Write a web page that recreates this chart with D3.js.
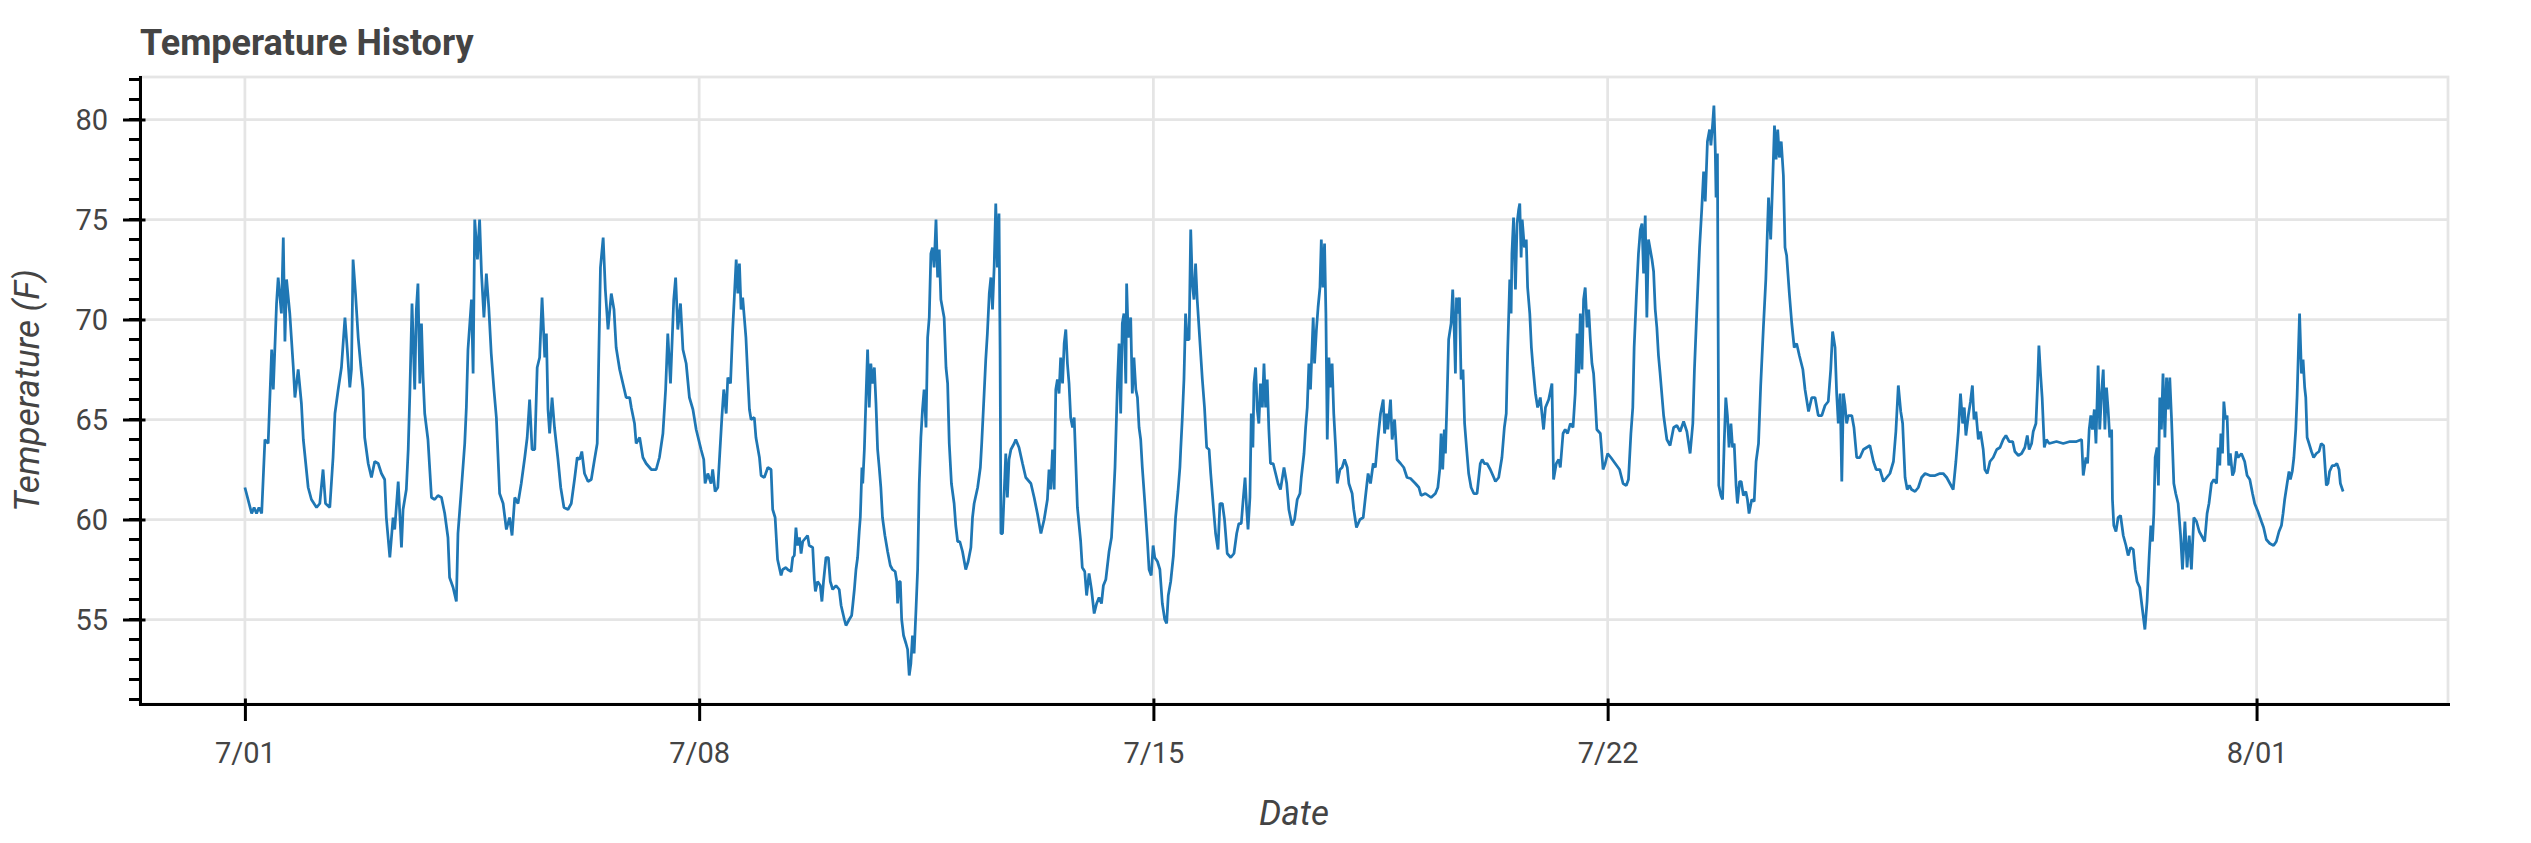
<!DOCTYPE html>
<html>
<head>
<meta charset="utf-8">
<script src="https://cdn.jsdelivr.net/npm/d3@7"></script>
<style>
  body { margin: 0; background: #ffffff; }
  svg { display: block; }
  text { font-family: Roboto, "Noto Sans", sans-serif; fill: #444444; }
</style>
</head>
<body>
<svg id="chart" width="2531" height="843"></svg>
<script>
// ---------------- DATA ----------------
const startDate = Date.UTC(2021, 6, 1);   // 7/01 00:00, readings are [hours since start, temperature F]
const chartTitle = "Temperature History";
const xLabel = "Date";
const yLabel = "Temperature (F)";
const xTickDates = [[6, 1], [6, 8], [6, 15], [6, 22], [7, 1]];   // [month index, day]
const yTickValues = [55, 60, 65, 70, 75, 80];

const readingsJul01to07 = [[0,61.6],[2.5,60.3],[3.4,60.6],[4.3,60.3],[5.2,60.6],[6.2,60.3],[7.4,64.0],[8.6,63.8],[9.9,68.5],[10.5,66.5],[11.7,70.8],[12.3,72.1],[13.5,70.3],[14.2,74.1],[14.8,68.9],[15.4,72.0],[16.6,70.3],[17.9,67.6],[18.5,66.1],[19.7,67.5],[20.9,65.8],[21.6,64.0],[23.4,61.6],[24.6,61.0],[26.5,60.6],[27.7,60.8],[28.9,62.5],[29.8,60.8],[31.4,60.6],[32.6,63.1],[33.3,65.3],[34.5,66.5],[35.7,67.6],[37.0,70.1],[37.8,68.6],[38.8,66.6],[39.4,67.5],[40.0,73.0],[40.9,71.3],[41.9,69.1],[42.9,67.6],[43.7,66.5],[44.3,64.1],[45.6,62.8],[46.8,62.1],[48.0,62.9],[49.3,62.8],[50.5,62.3],[51.7,62.0],[52.3,60.1],[53.6,58.1],[54.8,60.1],[55.4,59.5],[56.7,61.9],[57.9,58.6],[58.5,60.5],[59.7,61.5],[60.4,63.5],[61.0,66.3],[61.8,70.8],[62.8,66.5],[63.4,70.5],[64.0,71.8],[64.7,66.8],[65.3,69.8],[65.9,67.1],[66.5,65.3],[67.7,64.0],[69.0,61.1],[70.2,61.0],[71.4,61.2],[72.7,61.1],[73.9,60.3],[75.1,59.1],[75.7,57.1],[77.0,56.6],[78.2,55.9],[78.8,59.3],[80.1,61.6],[81.3,63.8],[81.9,65.6],[82.5,68.5],[83.8,71.0],[84.4,67.3],[85.0,75.0],[86.0,73.0],[86.8,75.0],[87.5,72.3],[88.4,70.1],[89.3,72.3],[90.2,70.6],[91.1,68.3],[92.1,66.5],[93.0,65.1],[94.2,61.3],[95.5,60.8],[96.7,59.5],[97.9,60.1],[98.8,59.2],[99.8,61.1],[101.0,60.8],[102.2,61.8],[103.5,63.1],[104.4,64.1],[105.3,66.0],[106.2,63.5],[107.2,63.5],[108.1,67.6],[109.0,68.1],[109.9,71.1],[110.9,68.1],[111.5,69.3],[112.1,65.5],[112.7,64.3],[113.6,66.1],[114.5,64.6],[115.8,63.0],[116.8,61.6],[118.0,60.6],[119.5,60.5],[120.7,60.8],[121.9,62.0],[122.9,63.1],[123.8,63.0],[124.6,63.4],[125.6,62.3],[126.9,61.9],[128.1,62.0],[129.3,63.0],[130.3,63.8],[130.8,67.6],[131.5,72.6],[132.5,74.1],[133.3,71.5],[134.3,69.5],[135.5,71.3],[136.5,70.5],[137.3,68.6],[138.6,67.5],[139.8,66.8],[141.0,66.1],[142.3,66.1],[142.9,65.6],[144.1,64.8],[144.7,63.8],[146.0,64.1],[147.2,63.1],[148.4,62.8],[150.3,62.5],[152.1,62.5],[153.3,63.1],[154.6,64.3],[155.6,66.5],[156.4,69.3],[157.4,66.8],[158.6,71.0],[159.3,72.1],[160.1,69.5],[161.1,70.8],[162.0,68.5],[163.2,67.8],[164.4,66.1],[165.7,65.5],[166.9,64.5]];

const readingsJul08to15 = [[168.7,63.5],[169.7,63.0],[170.2,61.8],[171.2,62.3],[172.4,61.8],[173.0,62.5],[173.9,61.4],[174.9,61.6],[175.5,63.0],[176.4,65.1],[177.1,66.5],[178.0,65.3],[178.6,67.1],[179.6,66.8],[180.4,69.5],[181.0,71.1],[181.7,73.0],[182.3,71.3],[182.9,72.8],[183.5,70.5],[184.1,71.1],[184.7,70.1],[185.3,69.1],[186.0,67.1],[186.6,65.5],[187.2,65.0],[188.4,65.1],[189.0,64.1],[190.3,63.1],[190.9,62.2],[192.1,62.1],[193.4,62.6],[194.6,62.5],[195.2,60.5],[196.1,60.1],[197.0,58.0],[198.3,57.2],[198.9,57.5],[200.1,57.6],[200.7,57.5],[202.0,57.4],[202.6,58.1],[203.2,58.2],[203.8,59.6],[204.4,58.7],[205.1,59.1],[205.7,58.3],[206.3,58.9],[207.5,59.1],[208.1,59.2],[208.7,58.7],[210.0,58.6],[210.6,57.0],[211.0,56.4],[211.8,56.9],[212.8,56.7],[213.4,55.9],[214.0,56.9],[214.9,58.1],[215.8,58.1],[216.5,56.9],[217.4,56.5],[218.6,56.7],[219.8,56.5],[220.5,55.7],[221.7,55.0],[222.3,54.7],[223.5,55.0],[224.4,55.2],[224.8,55.7],[225.4,56.5],[226.0,57.5],[226.6,58.1],[227.2,59.4],[227.6,60.1],[227.8,60.9],[228.2,62.6],[228.5,61.8],[229.1,63.5],[229.7,66.1],[230.3,68.5],[230.9,65.6],[231.5,67.8],[232.1,66.8],[232.8,67.6],[233.4,65.8],[234.0,63.5],[234.6,62.6],[235.2,61.6],[235.8,60.1],[236.7,59.2],[237.7,58.4],[238.7,57.7],[239.5,57.5],[240.5,57.4],[241.1,56.9],[241.4,55.8],[242.0,56.9],[242.4,56.9],[242.9,55.0],[243.6,54.2],[244.5,53.8],[245.1,53.5],[245.7,52.2],[246.3,52.8],[246.9,54.2],[247.5,53.3],[248.2,55.5],[248.8,57.5],[249.4,61.8],[250.0,64.1],[250.6,65.5],[251.2,66.5],[251.9,64.6],[252.5,69.1],[253.1,70.1],[253.7,73.3],[254.3,73.6],[254.9,72.6],[255.6,75.0],[256.2,72.1],[256.8,73.5],[257.4,71.0],[258.6,70.1],[259.3,67.6],[259.9,66.8],[260.5,63.8],[261.3,61.8],[262.3,60.8],[262.9,59.7],[263.6,58.9],[264.4,58.9],[265.4,58.4],[266.6,57.5],[267.5,57.9],[268.5,58.6],[269.1,60.1],[269.7,60.8],[271.0,61.6],[272.0,62.6],[272.5,63.8],[273.4,66.3],[274.0,68.0],[274.6,69.3],[275.3,71.3],[275.9,72.1],[276.5,70.5],[277.1,72.6],[277.7,75.8],[278.3,72.6],[278.9,75.3],[279.3,68.5],[279.6,59.3],[280.2,59.3],[280.8,61.3],[281.4,63.3],[282.0,61.1],[282.6,63.0],[283.3,63.5],[284.5,63.8],[285.1,64.0],[286.3,63.6],[287.6,62.8],[288.8,62.1],[290.7,61.8],[291.9,61.1],[293.1,60.3],[294.4,59.3],[295.6,60.0],[296.8,61.0],[297.4,62.5],[298.0,61.5],[298.7,63.5],[299.3,61.5],[299.9,66.5],[300.5,67.0],[301.1,66.3],[301.7,68.1],[302.4,66.8],[303.0,68.8],[303.6,69.5],[304.2,67.8],[304.8,66.8],[305.4,65.1],[306.1,64.6],[306.7,65.1],[307.9,60.6],[309.1,58.9],[309.7,57.6],[310.6,57.4],[311.3,56.2],[312.2,57.3],[313.1,56.5],[314.1,55.3],[315.0,55.8],[315.9,56.1],[316.8,55.8],[317.5,56.7],[318.4,57.0],[319.6,58.4],[320.5,59.1],[321.2,60.9],[321.8,62.6],[322.7,66.8],[323.3,68.8],[323.9,65.3],[324.5,69.8],[325.1,70.3],[325.8,66.8],[326.1,71.8],[326.7,69.1],[327.6,70.1],[328.2,66.3],[328.8,68.1],[329.5,66.5],[330.1,66.1],[330.7,64.6],[331.3,64.0],[331.9,62.6],[332.8,60.9],[333.8,58.9],[334.4,57.5],[335.2,57.2],[335.9,58.7],[336.5,58.1],[337.5,57.9],[338.4,57.5],[339.3,55.8],[340.2,55.0],[340.9,54.8],[341.5,56.2],[342.4,56.9],[343.4,58.2],[344.2,60.1],[345.1,61.4],[345.8,62.6],[346.1,63.5],[346.7,65.1],[347.3,67.0],[347.9,70.3],[348.5,69.0],[349.2,69.0],[349.8,74.5],[350.4,71.8],[351.0,71.0],[351.6,72.8],[352.2,71.0]];

const readingsJul15to22 = [[354.1,67.0],[354.9,65.6],[355.7,63.6],[356.6,63.5],[357.2,62.3],[358.2,60.6],[359.0,59.3],[359.9,58.5],[360.6,60.8],[361.5,60.8],[362.3,60.0],[363.3,58.3],[364.6,58.1],[365.8,58.3],[366.8,59.3],[367.6,59.8],[368.5,59.8],[369.2,61.0],[369.9,62.1],[370.5,60.5],[371.0,59.5],[371.7,61.1],[372.2,65.3],[372.8,63.6],[373.2,66.8],[373.8,67.6],[374.4,65.5],[375.0,64.8],[375.6,66.8],[376.3,65.6],[376.9,67.8],[377.5,65.6],[378.1,67.0],[378.7,64.5],[379.3,62.8],[380.3,62.8],[381.2,62.3],[382.1,61.8],[383.0,61.5],[384.3,62.6],[385.3,61.8],[386.1,60.5],[387.3,59.7],[388.2,60.0],[389.2,61.0],[390.2,61.3],[390.7,62.1],[391.7,63.3],[392.3,64.6],[392.9,65.6],[393.5,67.8],[394.1,66.5],[395.1,70.1],[395.6,67.8],[396.3,69.5],[396.9,70.6],[397.6,71.6],[398.1,74.0],[398.7,71.6],[399.3,73.8],[399.8,70.3],[400.3,64.0],[400.9,68.1],[401.5,66.6],[402.1,67.8],[402.7,65.3],[403.4,63.6],[404.0,61.8],[405.0,62.5],[405.8,62.6],[406.7,63.0],[407.7,62.6],[408.3,61.8],[409.5,61.3],[410.1,60.5],[411.1,59.6],[412.4,60.0],[413.6,60.1],[414.4,61.1],[415.4,62.3],[416.3,61.8],[417.3,62.8],[418.1,62.6],[419.0,64.0],[420.0,65.3],[421.0,66.0],[421.5,64.3],[422.2,65.3],[422.7,64.5],[423.7,66.0],[424.3,64.0],[425.2,65.0],[426.1,63.0],[427.4,62.8],[428.6,62.6],[429.8,62.1],[431.1,62.05],[432.9,61.8],[434.2,61.6],[435.0,61.2],[436.6,61.3],[438.7,61.1],[440.3,61.3],[441.2,61.6],[441.9,62.5],[442.4,64.3],[443.0,62.5],[443.6,64.5],[444.0,63.3],[444.6,66.0],[445.2,69.0],[446.1,69.8],[446.7,71.5],[447.3,69.3],[447.7,67.3],[448.1,71.1],[448.6,70.3],[449.2,71.1],[449.8,67.0],[450.5,67.5],[451.1,64.8],[451.8,63.6],[452.6,62.3],[453.5,61.6],[454.5,61.3],[455.7,61.3],[456.9,62.8],[457.6,63.0],[458.4,62.8],[459.4,62.8],[460.6,62.5],[461.9,62.1],[462.5,61.9],[463.7,62.1],[464.9,63.1],[465.8,64.6],[466.5,65.3],[467.0,68.3],[467.8,72.0],[468.3,70.3],[468.6,73.3],[469.2,75.1],[469.9,71.5],[470.5,74.8],[471.1,75.5],[471.5,75.8],[472.0,73.1],[472.4,75.0],[473.2,73.6],[473.9,74.0],[474.4,71.6],[475.2,70.3],[475.8,68.6],[476.4,67.6],[477.3,66.3],[478.1,65.6],[479.1,66.1],[479.7,65.3],[480.3,64.5],[481.0,65.6],[482.2,66.0],[483.4,66.8],[484.0,62.0],[485.0,62.8],[485.9,63.0],[486.5,62.6],[487.5,64.3],[488.3,64.5],[489.2,64.3],[490.2,64.8],[491.2,64.6],[492.0,66.3],[492.7,69.3],[493.3,67.3],[493.9,70.3],[494.5,67.5],[495.1,71.0],[495.7,71.6],[496.4,69.6],[497.0,70.5],[497.6,69.0],[498.2,67.8],[498.8,67.3],[499.4,66.0],[500.0,64.5],[501.3,64.3],[502.3,62.5],[503.1,62.8],[504.0,63.3],[505.2,63.1],[506.8,62.8],[508.4,62.5],[509.7,61.8],[510.9,61.7],[511.7,62.0],[512.6,64.3],[513.3,65.6],[513.8,68.6],[514.6,71.1],[515.4,73.3],[516.1,74.5],[516.7,74.8],[517.3,72.3],[517.9,75.2],[518.5,70.1],[519.1,74.0]];

const readingsJul22to28 = [[520.4,73.0],[521.0,72.4],[521.6,70.5],[522.2,69.6],[522.8,68.2],[523.4,67.3],[524.7,65.2],[525.9,64.0],[527.1,63.7],[528.4,64.6],[529.6,64.7],[530.8,64.4],[532.1,64.9],[533.3,64.4],[534.5,63.3],[535.5,64.8],[536.1,67.5],[537.0,70.5],[538.0,73.6],[538.8,75.5],[539.5,77.4],[540.1,75.9],[540.9,78.9],[541.7,79.5],[542.2,78.7],[542.9,79.9],[543.3,80.7],[543.8,78.5],[544.1,76.1],[544.6,78.3],[544.9,68.6],[545.1,61.7],[545.9,61.2],[546.5,61.0],[547.1,63.8],[547.7,66.1],[548.3,65.2],[548.9,63.6],[549.6,64.8],[550.2,63.6],[550.8,63.8],[551.5,61.7],[552.0,60.8],[552.8,61.9],[553.4,61.9],[554.2,61.2],[555.1,61.4],[555.7,61.0],[556.3,60.3],[557.3,61.0],[558.2,60.9],[558.9,62.9],[559.8,63.8],[560.6,66.7],[561.6,69.6],[562.5,72.0],[563.5,76.1],[564.3,74.0],[565.1,77.2],[565.7,79.7],[566.3,78.0],[566.9,79.5],[567.5,78.1],[568.2,78.9],[569.0,77.2],[569.6,73.6],[570.2,73.2],[571.2,71.3],[572.1,69.8],[573.0,68.6],[573.9,68.8],[574.9,68.2],[576.2,67.5],[577.0,66.5],[578.3,65.4],[579.5,66.1],[580.7,66.1],[581.9,65.2],[583.2,65.2],[584.4,65.7],[585.6,65.9],[586.5,67.5],[587.2,69.4],[588.1,68.6],[588.7,66.3],[589.3,64.8],[590.0,66.3],[590.6,61.9],[591.2,66.3],[591.8,65.7],[592.4,64.8],[593.0,65.2],[594.3,65.2],[595.1,64.6],[596.1,63.1],[597.3,63.1],[598.6,63.5],[599.8,63.6],[601.0,63.7],[602.3,62.9],[603.3,62.5],[604.7,62.5],[606.0,61.9],[607.2,62.1],[608.4,62.3],[609.7,62.9],[610.6,64.4],[611.5,66.7],[612.4,65.4],[613.1,64.8],[614.0,62.1],[614.8,61.5],[615.6,61.7],[616.4,61.5],[617.7,61.4],[618.9,61.6],[620.1,62.1],[621.4,62.3],[623.2,62.2],[625.1,62.2],[626.9,62.3],[628.1,62.3],[629.4,62.1],[630.6,61.8],[631.8,61.5],[632.8,62.9],[633.7,64.4],[634.5,66.3],[635.3,64.8],[635.9,65.6],[636.5,64.2],[637.4,65.2],[638.2,65.9],[638.9,66.7],[639.5,65.0],[640.2,65.4],[641.1,64.0],[641.9,64.4],[642.9,63.5],[643.5,62.5],[644.4,62.3],[645.4,62.9],[646.6,63.1],[647.9,63.5],[649.1,63.6],[650.3,64.0],[651.3,64.2],[652.5,63.9],[653.8,63.9],[654.6,63.4],[655.9,63.2],[657.1,63.3],[658.3,63.6],[659.2,64.2],[659.9,63.5],[660.8,63.8],[661.4,64.4],[662.4,64.8],[663.0,66.7],[663.5,68.7],[664.1,67.3],[664.7,66.1],[665.5,63.6],[666.3,64.0],[667.3,63.8]];

const readingsJul28toAug02 = [[670.0,63.9],[672.5,63.8],[675.0,63.9],[677.4,63.9],[679.3,64.0],[679.9,62.2],[680.9,63.1],[681.5,62.8],[682.1,64.5],[682.7,65.2],[683.3,64.5],[684.0,65.5],[684.6,63.8],[685.4,67.7],[686.0,64.5],[686.7,66.4],[687.3,67.5],[687.9,64.5],[688.5,66.6],[689.1,65.5],[689.7,64.1],[690.4,64.5],[690.7,61.0],[691.2,59.7],[692.0,59.4],[692.8,60.1],[693.7,60.2],[694.7,59.2],[695.7,58.7],[696.5,58.2],[697.4,58.6],[698.4,58.5],[699.1,57.5],[699.8,56.9],[700.8,56.6],[701.6,55.7],[702.7,54.5],[703.5,55.9],[704.3,58.2],[704.9,59.7],[705.5,58.9],[706.0,60.3],[706.5,63.1],[707.2,63.6],[707.7,61.7],[708.2,66.1],[708.8,64.5],[709.4,67.3],[710.1,64.1],[710.7,67.1],[711.3,65.5],[711.9,67.1],[712.5,65.2],[713.4,61.8],[714.1,61.3],[715.0,60.8],[715.9,59.2],[716.6,57.5],[717.5,59.9],[718.3,57.6],[719.1,59.2],[719.9,57.5],[720.8,60.1],[721.8,59.9],[722.8,59.4],[723.6,59.2],[724.8,58.9],[725.7,60.3],[726.4,60.8],[727.3,61.8],[728.2,62.0],[729.2,61.8],[729.8,63.6],[730.4,62.7],[730.8,64.3],[731.4,63.3],[731.9,65.9],[732.5,65.0],[733.1,65.2],[733.7,62.7],[734.3,63.3],[735.1,62.2],[735.7,62.4],[736.5,63.4],[737.2,63.1],[738.4,63.3],[739.6,62.9],[740.5,62.2],[741.5,62.0],[742.5,61.3],[743.3,60.8],[744.5,60.4],[745.8,59.9],[746.6,59.6],[747.6,59.0],[748.9,58.8],[750.3,58.7],[751.3,58.9],[752.3,59.4],[753.2,59.7],[753.8,60.3],[754.4,61.0],[755.3,61.8],[756.0,62.4],[756.5,62.0],[757.2,62.4],[757.8,63.1],[758.5,64.5],[759.0,66.2],[759.3,67.6],[759.9,70.3],[760.6,67.3],[761.2,68.0],[761.8,66.6],[762.2,66.1],[762.7,64.1],[763.4,63.8],[764.3,63.4],[765.1,63.1],[766.1,63.3],[767.1,63.4],[767.9,63.8],[768.8,63.7],[769.8,61.7],[770.4,61.8],[771.0,62.4],[772.0,62.7],[772.9,62.7],[773.7,62.8],[774.5,62.5],[775.0,61.8],[776.0,61.4]];

// ---------------- CHART ----------------
const W = 2531, H = 843;
const frame = { left: 140, right: 2448, top: 77, bottom: 704 };
const HOUR = 3600 * 1000;

const readings = [].concat(readingsJul01to07, readingsJul08to15, readingsJul15to22,
                           readingsJul22to28, readingsJul28toAug02)
  .map(([h, t]) => ({ date: new Date(startDate + h * HOUR), temp: t }));

// data ranges with 5% padding on each side
const tExt = d3.extent(readings, d => +d.date);
const tPad = (tExt[1] - tExt[0]) * 0.05;
const vExt = d3.extent(readings, d => d.temp);
const vPad = (vExt[1] - vExt[0]) * 0.05;

const x = d3.scaleUtc()
  .domain([new Date(tExt[0] - tPad), new Date(tExt[1] + tPad)])
  .range([frame.left, frame.right]);
const y = d3.scaleLinear()
  .domain([vExt[0] - vPad, vExt[1] + vPad])
  .range([frame.bottom, frame.top]);

const xTicks = xTickDates.map(([m, d]) => new Date(Date.UTC(2021, m, d)));
const yMinor = d3.range(Math.ceil(y.domain()[0]), Math.floor(y.domain()[1]) + 1);

const svg = d3.select("#chart");
svg.append("rect").attr("width", W).attr("height", H).attr("fill", "#ffffff");

// grid
const grid = svg.append("g").attr("stroke", "#e5e5e5").attr("stroke-width", 2.75);
grid.selectAll("line.h").data(yTickValues).join("line").attr("class", "h")
  .attr("x1", frame.left).attr("x2", frame.right)
  .attr("y1", d => y(d)).attr("y2", d => y(d));
grid.selectAll("line.v").data(xTicks).join("line").attr("class", "v")
  .attr("y1", frame.top).attr("y2", frame.bottom)
  .attr("x1", d => x(d)).attr("x2", d => x(d));

// outline
svg.append("rect")
  .attr("x", frame.left).attr("y", frame.top)
  .attr("width", frame.right - frame.left).attr("height", frame.bottom - frame.top)
  .attr("fill", "none").attr("stroke", "#e5e5e5").attr("stroke-width", 2.75);

// line
const line = d3.line().x(d => x(d.date)).y(d => y(d.temp));
svg.append("path").datum(readings)
  .attr("d", line)
  .attr("fill", "none")
  .attr("stroke", "#1f77b4")
  .attr("stroke-width", 2.75)
  .attr("stroke-linejoin", "bevel");

// y axis
const yAxisG = svg.append("g").attr("transform", `translate(${frame.left},0)`)
  .call(d3.axisLeft(y).tickValues(yTickValues).tickFormat(d3.format("d"))
        .tickSize(17).tickSizeOuter(0).tickPadding(15));
yAxisG.select(".domain").attr("stroke", "#000").attr("stroke-width", 3).attr("stroke-linecap", "square");
yAxisG.selectAll(".tick line").attr("x1", 5.5).attr("x2", -17).attr("stroke", "#000").attr("stroke-width", 3);
yAxisG.selectAll(".tick text")
  .style("font-family", "Roboto, sans-serif").style("font-size", "29px").attr("fill", "#444444")
  .attr("dy", "0.36em");
yAxisG.selectAll("line.minor").data(yMinor).join("line").attr("class", "minor")
  .attr("x1", 0).attr("x2", -11)
  .attr("y1", d => y(d)).attr("y2", d => y(d))
  .attr("stroke", "#000").attr("stroke-width", 3);

// x axis
const xAxisG = svg.append("g").attr("transform", `translate(0,${frame.bottom})`)
  .call(d3.axisBottom(x).tickValues(xTicks).tickFormat(d3.utcFormat("%-m/%d"))
        .tickSize(17).tickSizeOuter(0));
xAxisG.select(".domain").attr("stroke", "#000").attr("stroke-width", 3).attr("stroke-linecap", "square");
xAxisG.selectAll(".tick line").attr("y1", -5.5).attr("y2", 17).attr("stroke", "#000").attr("stroke-width", 3);
xAxisG.selectAll(".tick text")
  .style("font-family", "Roboto, sans-serif").style("font-size", "29px").attr("fill", "#444444")
  .attr("y", 59).attr("dy", 0);

// title
svg.append("text")
  .attr("x", frame.left).attr("y", 55)
  .style("font-size", "36px").style("font-weight", "700")
  .text(chartTitle);

// axis labels
svg.append("text")
  .attr("transform", `translate(39,${(frame.top + frame.bottom) / 2}) rotate(-90)`)
  .attr("text-anchor", "middle")
  .style("font-size", "35px").style("font-style", "italic")
  .text(yLabel);

svg.append("text")
  .attr("x", (frame.left + frame.right) / 2).attr("y", 825)
  .attr("text-anchor", "middle")
  .style("font-size", "35px").style("font-style", "italic")
  .text(xLabel);
</script>
</body>
</html>
